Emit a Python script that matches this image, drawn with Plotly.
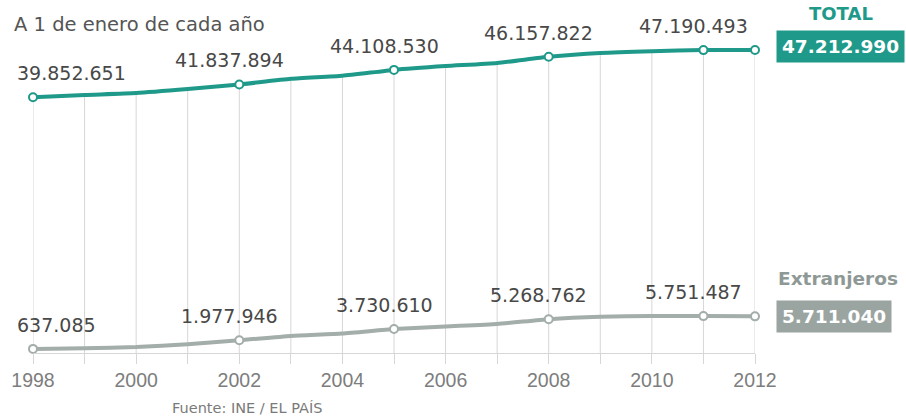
import plotly.graph_objects as go

# Población empadronada en España, a 1 de enero
years = list(range(1998, 2013))
total = [39852651, 40202160, 40499791, 41116842, 41837894, 42717064, 43197684,
         44108530, 44708964, 45200737, 46157822, 46745807, 47021031, 47190493,
         47212990]
extranjeros = [637085, 748954, 923879, 1370657, 1977946, 2664168, 3034326,
               3730610, 4144166, 4519554, 5268762, 5648671, 5747734, 5751487,
               5711040]
# Años destacados con marcador y etiqueta
highlight_years = [1998, 2002, 2005, 2008, 2011]
last_year = 2012

TEAL = "#1f9a8a"
GREY_LINE = "#a3adaa"
GREY_BOX = "#9aa4a1"
GREY_TEXT = "#8e9996"
LABEL = "#484848"
GRID = "#d6d6d6"
FONT = "DejaVu Sans"


def fmt(v):
    return f"{v:,}".replace(",", ".")


fig = go.Figure()

# Líneas verticales desde la base hasta la curva del total
gx, gy = [], []
for yr, v in zip(years, total):
    gx += [yr, yr, None]
    gy += [0, v, None]
fig.add_trace(go.Scatter(x=gx, y=gy, mode="lines", line=dict(color=GRID, width=1),
                         hoverinfo="skip", showlegend=False))

marker_years = highlight_years + [last_year]
for series, color in ((total, TEAL), (extranjeros, GREY_LINE)):
    fig.add_trace(go.Scatter(x=years, y=series, mode="lines",
                             line=dict(color=color, width=4, shape="spline", smoothing=0.5),
                             showlegend=False, cliponaxis=False))
    fig.add_trace(go.Scatter(
        x=marker_years, y=[series[years.index(yr)] for yr in marker_years],
        mode="markers", marker=dict(size=8, color="white", line=dict(color=color, width=2)),
        showlegend=False, cliponaxis=False))

annotations = []
for series in (total, extranjeros):
    for i, yr in enumerate(highlight_years):
        v = series[years.index(yr)]
        first = i == 0
        annotations.append(dict(
            x=yr, y=v, xref="x", yref="y", text=fmt(v), showarrow=False,
            xanchor="left" if first else "center",
            xshift=-18 if first else -10, yshift=24,
            font=dict(family=FONT, size=19, color=LABEL)))

# Cajas con el último valor
annotations += [
    dict(x=1.029, y=total[-1], xref="paper", yref="y", text=fmt(total[-1]),
         showarrow=False, xanchor="left", yanchor="middle", yshift=3,
         bgcolor=TEAL, borderpad=5,
         font=dict(family=FONT, size=18.5, color="white", weight="bold")),
    dict(x=1.029, y=extranjeros[-1], xref="paper", yref="y", text=fmt(extranjeros[-1]),
         showarrow=False, xanchor="left", yanchor="middle",
         bgcolor=GREY_BOX, borderpad=5,
         font=dict(family=FONT, size=18.5, color="white", weight="bold")),
    dict(x=1.119, y=0.963, xref="paper", yref="paper", text="TOTAL", showarrow=False,
         xanchor="center", yanchor="middle",
         font=dict(family=FONT, size=18, color=TEAL, weight="bold")),
    dict(x=1.029, y=0.21, xref="paper", yref="paper", text="Extranjeros", showarrow=False,
         xanchor="left", yanchor="middle",
         font=dict(family=FONT, size=18.5, color=GREY_TEXT, weight="bold")),
    dict(x=-0.029, y=0.93, xref="paper", yref="paper", text="A 1 de enero de cada año",
         showarrow=False, xanchor="left", yanchor="middle",
         font=dict(family=FONT, size=19.5, color="#555555")),
    dict(x=0.19, y=-0.156, xref="paper", yref="paper", text="Fuente: INE / EL PAÍS",
         showarrow=False, xanchor="left", yanchor="middle",
         font=dict(family=FONT, size=14.5, color="#7a7a7a")),
]

fig.update_layout(
    width=906, height=418,
    margin=dict(l=33, r=151, t=0, b=65),
    paper_bgcolor="white", plot_bgcolor="white",
    annotations=annotations,
    xaxis=dict(range=[1998, 2012], tickmode="linear", tick0=1998, dtick=2,
               ticks="outside", ticklen=10, tickcolor=GRID, showgrid=False,
               showline=True, linecolor=GRID, linewidth=1, zeroline=False,
               tickfont=dict(family="Liberation Sans", size=19.5, color="#7d7d7d"),
               minor=dict(dtick=1, tick0=1998, ticks="outside", ticklen=10,
                          tickcolor=GRID, showgrid=False)),
    yaxis=dict(range=[0, 55.0e6], visible=False, showgrid=False, zeroline=False),
)

fig.write_html("out.html")
